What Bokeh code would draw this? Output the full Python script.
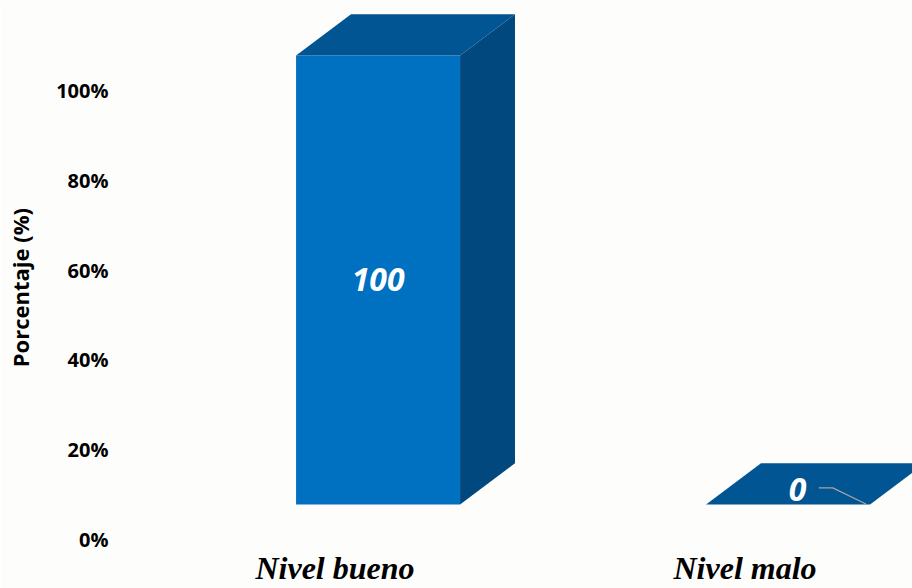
from bokeh.plotting import figure
from bokeh.models import FixedTicker, Range1d
from bokeh.core.properties import value
from bokeh.embed import file_html
from bokeh.resources import INLINE

# ---- data ----
categories = ["Nivel bueno", "Nivel malo"]
percentages = [100, 0]
data_labels = ["100", "0"]
y_ticks = [0, 20, 40, 60, 80, 100]
y_tick_labels = ["0%", "20%", "40%", "60%", "80%", "100%"]

# ---- 3D geometry / style ----
BAR_SHIFT = 0.105      # front face centre relative to category label
BAR_W = 0.40
DEPTH_X = 0.134
DEPTH_Y = 9.2
BASE = 7.8             # front floor level (axis units)
FRONT = "#0070C0"
TOP = "#005592"
SIDE = "#00487E"
BG = "#FDFDFB"

p = figure(width=912, height=588, output_backend="svg", toolbar_location=None,
           x_range=Range1d(-0.5232, 1.4085), y_range=Range1d(-0.22, 120.04),
           min_border_left=120, min_border_right=0, min_border_top=0,
           min_border_bottom=40, background_fill_color=BG,
           border_fill_color=BG, outline_line_color=None)
p.grid.visible = False

front_xs, front_ys, top_xs, top_ys, side_xs, side_ys = [], [], [], [], [], []
for i, v in enumerate(percentages):
    xl = i + BAR_SHIFT - BAR_W / 2
    xr = i + BAR_SHIFT + BAR_W / 2
    yb = BASE
    yt = BASE + v
    front_xs.append([xl, xr, xr, xl])
    front_ys.append([yb, yb, yt, yt])
    top_xs.append([xl, xr, xr + DEPTH_X, xl + DEPTH_X])
    top_ys.append([yt, yt, yt + DEPTH_Y, yt + DEPTH_Y])
    side_xs.append([xr, xr + DEPTH_X, xr + DEPTH_X, xr])
    side_ys.append([yb, yb + DEPTH_Y, yt + DEPTH_Y, yt])

p.patches(side_xs, side_ys, fill_color=SIDE, line_color=None)
p.patches(front_xs, front_ys, fill_color=FRONT, line_color=None)
p.patches(top_xs, top_ys, fill_color=TOP, line_color=None)

# data labels
lab_x = [0 + BAR_SHIFT, 1 + BAR_SHIFT + 0.023]
lab_y = [BASE + percentages[0] / 2, BASE + 3.3]
p.text(x=lab_x, y=lab_y, text=data_labels, text_color="white",
       text_font=value("Open Sans"), text_font_style="bold italic",
       text_font_size="32px", text_align="center", text_baseline="middle")

# leader line for the zero label
lx0 = lab_x[1] + 0.052
p.line(x=[lx0, lx0 + 0.034, 1 + BAR_SHIFT + BAR_W / 2 - 0.01],
       y=[lab_y[1] + 0.4, lab_y[1] + 0.4, BASE + 0.1],
       line_color="#A6A6A6", line_width=1.2)

# y axis
p.yaxis.ticker = FixedTicker(ticks=y_ticks)
p.yaxis.major_label_overrides = {t: s for t, s in zip(y_ticks, y_tick_labels)}
p.yaxis.axis_line_color = None
p.yaxis.major_tick_line_color = None
p.yaxis.minor_tick_line_color = None
p.yaxis.major_tick_out = 0
p.yaxis.major_tick_in = 0
p.yaxis.major_label_standoff = 12
p.yaxis.major_label_text_font = "Open Sans"
p.yaxis.major_label_text_font_style = "bold"
p.yaxis.major_label_text_font_size = "20px"
p.yaxis.major_label_text_color = "black"
p.yaxis.axis_label = "Porcentaje (%)" + "\u00a0" * 6
p.yaxis.axis_label_text_font = "Open Sans"
p.yaxis.axis_label_text_font_style = "bold"
p.yaxis.axis_label_text_font_size = "22px"
p.yaxis.axis_label_text_color = "black"
p.yaxis.axis_label_standoff = 18

# x axis
p.xaxis.ticker = FixedTicker(ticks=list(range(len(categories))))
p.xaxis.major_label_overrides = {i: c for i, c in enumerate(categories)}
p.xaxis.axis_line_color = None
p.xaxis.major_tick_line_color = None
p.xaxis.minor_tick_line_color = None
p.xaxis.major_tick_out = 0
p.xaxis.major_tick_in = 0
p.xaxis.major_label_standoff = 9
p.xaxis.major_label_text_font = "Liberation Serif"
p.xaxis.major_label_text_font_style = "bold italic"
p.xaxis.major_label_text_font_size = "32px"
p.xaxis.major_label_text_color = "black"

open("out.html", "w").write(file_html(p, INLINE))
